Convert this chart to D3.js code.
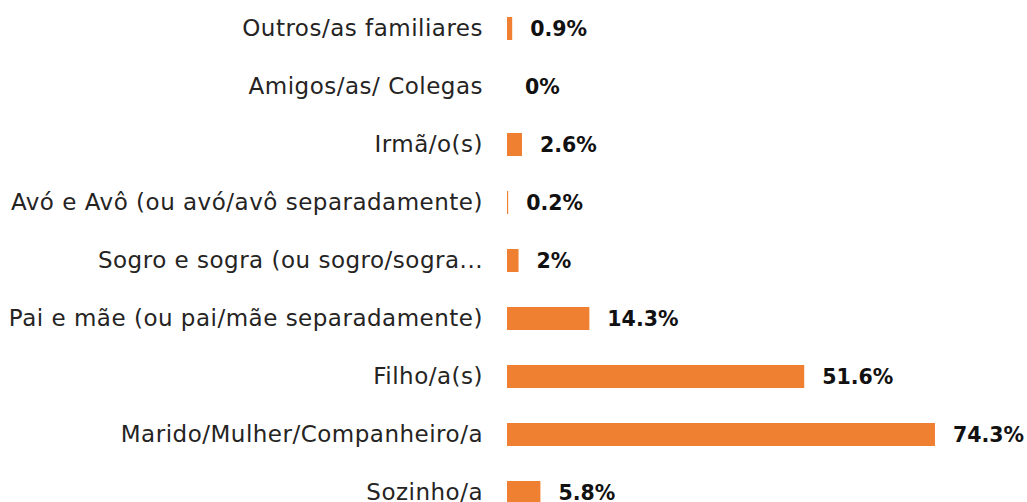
<!DOCTYPE html>
<html>
<head>
<meta charset="utf-8">
<script src="https://cdn.jsdelivr.net/npm/d3@7"></script>
<style>
  html, body { margin: 0; padding: 0; background: #ffffff; }
  svg { display: block; }
</style>
</head>
<body>
<svg id="chart" width="1027" height="502"></svg>
<script>
const categories = [
  "Outros/as familiares",
  "Amigos/as/ Colegas",
  "Irmã/o(s)",
  "Avó e Avô (ou avó/avô separadamente)",
  "Sogro e sogra (ou sogro/sogra...",
  "Pai e mãe (ou pai/mãe separadamente)",
  "Filho/a(s)",
  "Marido/Mulher/Companheiro/a",
  "Sozinho/a"
];
const values = [0.9, 0, 2.6, 0.2, 2, 14.3, 51.6, 74.3, 5.8];
const valueLabels = ["0.9%", "0%", "2.6%", "0.2%", "2%", "14.3%", "51.6%", "74.3%", "5.8%"];

const svg = d3.select("#chart");
const FONT = "'DejaVu Sans', sans-serif";

const y = d3.scaleBand()
  .domain(categories)
  .range([-0.5, 521.5])
  .paddingInner(0.6034)
  .paddingOuter(0.3017);

const x = d3.scaleLinear()
  .domain([0, 100])
  .range([507, 1083]);

const rows = categories.map((c, i) => ({ c, v: values[i], lab: valueLabels[i] }));

// category axis (labels only)
const yAxis = d3.axisLeft(y).tickSize(0).tickPadding(24);
const gAxis = svg.append("g")
  .attr("transform", `translate(${x(0)},0)`)
  .call(yAxis);
gAxis.select(".domain").remove();
gAxis.selectAll("text")
  .attr("font-family", FONT)
  .attr("font-size", 23)
  .attr("letter-spacing", "0.5px")
  .attr("fill", "#252423");

// bars
svg.append("g").selectAll("rect")
  .data(rows)
  .join("rect")
  .attr("x", x(0))
  .attr("y", d => y(d.c))
  .attr("width", d => x(d.v) - x(0))
  .attr("height", y.bandwidth())
  .attr("fill", "#EF7F31");

// value labels
svg.append("g").selectAll("text")
  .data(rows)
  .join("text")
  .attr("x", d => x(d.v) + 18)
  .attr("y", d => y(d.c) + y.bandwidth() / 2)
  .attr("dy", "0.35em")
  .attr("font-family", FONT)
  .attr("font-size", 20.5)
  .attr("font-weight", "bold")
  .attr("fill", "#111111")
  .text(d => d.lab);
</script>
</body>
</html>
